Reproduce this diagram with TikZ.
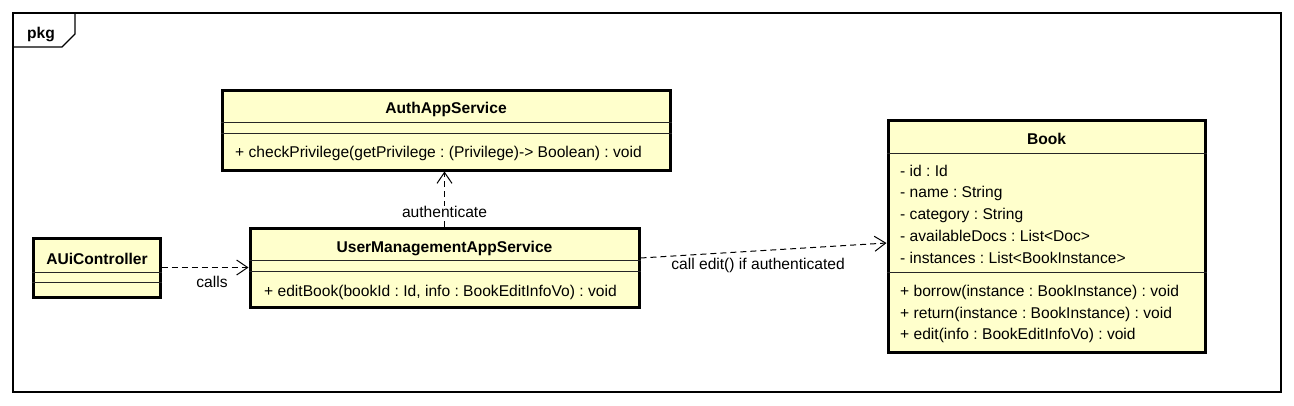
\documentclass[tikz,border=0pt]{standalone}
\usepackage{fontspec}
\setmainfont{Liberation Sans}
\usetikzlibrary{arrows.meta,calc}
\definecolor{classfill}{HTML}{FFFFCC}
\frenchspacing

\begin{document}
\begin{tikzpicture}[x=1pt,y=-1pt,
    classbox/.style={draw,line width=3pt,fill=classfill,inner sep=0pt},
    sepline/.style={line width=1pt,black!85},
    cname/.style={anchor=base,inner sep=0pt,font=\fontsize{15.6}{18}\selectfont\bfseries},
    member/.style={anchor=base west,inner sep=0pt,font=\fontsize{15.6}{18}\selectfont},
    dep/.style={line width=1pt,dash pattern=on 6pt off 4pt,-{Straight Barb[length=11pt,width=15pt]}},
    deplabel/.style={anchor=base,inner sep=1pt,font=\fontsize{15.6}{18}\selectfont}]
    \useasboundingbox (0,0) rectangle (1294,405);
    \draw[line width=1.2pt] (13,13) rectangle (1281,392);
    \draw[line width=1.2pt] (13,47) -- (62,47) -- (75,34) -- (75,13);
    \node[cname] (pkg) at (41,38) {pkg};

    \node[classbox,minimum width=448pt,minimum height=80pt] (auth) at (446,130) {};
    \draw[sepline] (auth.west |- 0,122) -- (auth.east |- 0,122);
    \draw[sepline] (auth.west |- 0,133) -- (auth.east |- 0,133);
    \node[cname] (authName) at (446,113) {AuthAppService};
    \node[member] (authOp) at (235,157) {+ checkPrivilege(getPrivilege : (Privilege)-> Boolean) : void};

    \node[classbox,minimum width=127pt,minimum height=59pt] (aui) at (96.5,267.5) {};
    \draw[sepline] (aui.west |- 0,272) -- (aui.east |- 0,272);
    \draw[sepline] (aui.west |- 0,282) -- (aui.east |- 0,282);
    \node[cname] (auiName) at (97,264) {AUiController};

    \node[classbox,minimum width=389pt,minimum height=79pt] (ums) at (444.5,267.5) {};
    \draw[sepline] (ums.west |- 0,260) -- (ums.east |- 0,260);
    \draw[sepline] (ums.west |- 0,271) -- (ums.east |- 0,271);
    \node[cname] (umsName) at (444.5,252.5) {UserManagementAppService};
    \node[member] (umsOp) at (264,296) {+ editBook(bookId : Id, info : BookEditInfoVo) : void};

    \node[classbox,minimum width=317pt,minimum height=232pt] (book) at (1046.5,236) {};
    \draw[sepline] (book.west |- 0,153) -- (book.east |- 0,153);
    \draw[sepline] (book.west |- 0,272) -- (book.east |- 0,272);
    \node[cname] (bookName) at (1046.5,144) {Book};
    \node[member] (bookId) at (900,176) {- id : Id};
    \node[member] (bookTitle) at (900,197.5) {- name : String};
    \node[member] (bookCat) at (900,219) {- category : String};
    \node[member] (bookDocs) at (900,241.5) {- availableDocs : List<Doc>};
    \node[member] (bookInst) at (900,263) {- instances : List<BookInstance>};
    \node[member] (bookBorrow) at (900,296.5) {+ borrow(instance : BookInstance) : void};
    \node[member] (bookReturn) at (900,318) {+ return(instance : BookInstance) : void};
    \node[member] (bookEdit) at (900,339.5) {+ edit(info : BookEditInfoVo) : void};

    \draw[dep] (aui.east) -- node[deplabel,pos=0.58,yshift=-19.5pt] (callsLbl) {calls} (ums.west);
    \draw[dep] (ums.north) -- node[deplabel,fill=white,pos=0.155] (authLbl) {authenticate} (ums.north |- auth.south);
    \draw[dep] ([yshift=9.5pt]ums.east) -- node[deplabel,pos=0.478,yshift=-19pt] (editLbl) {call edit() if authenticated} ([yshift=-7pt]book.west);
\end{tikzpicture}
\end{document}
